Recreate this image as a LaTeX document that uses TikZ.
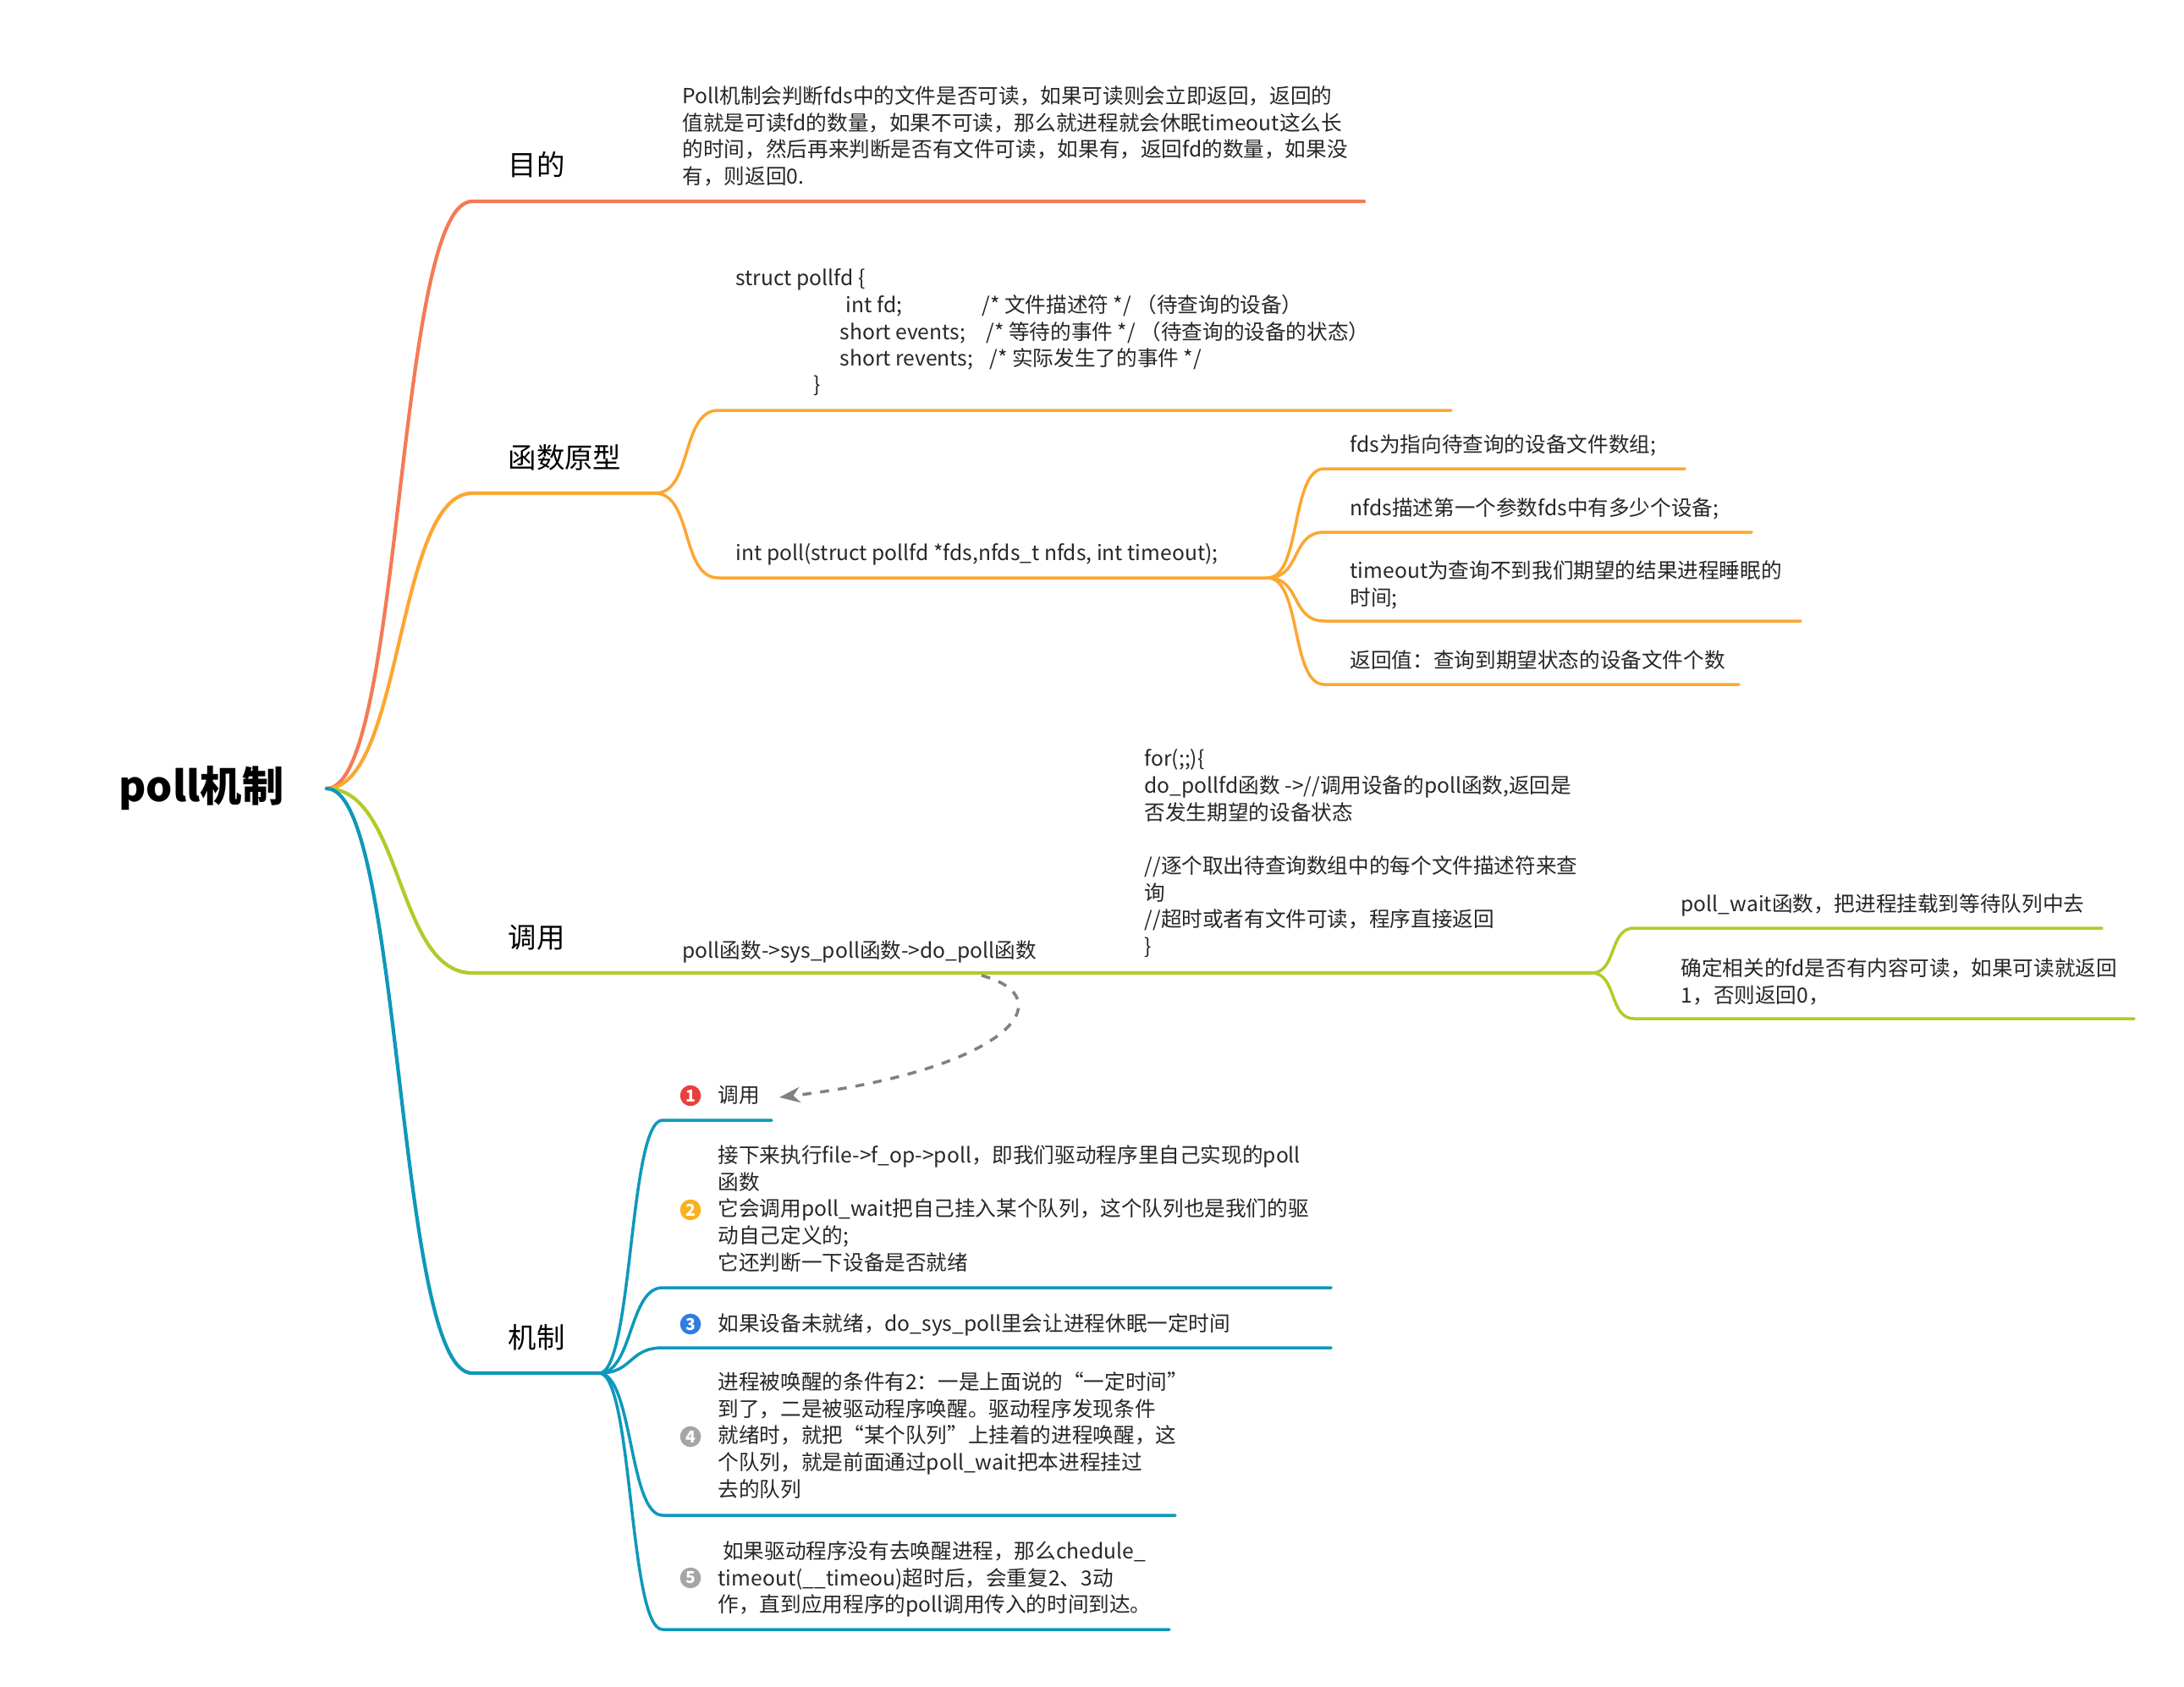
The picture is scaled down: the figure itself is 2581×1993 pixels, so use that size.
\documentclass[tikz,border=0pt]{standalone}
\usepackage{fontspec}
\setmainfont{Noto Sans CJK SC}
\usetikzlibrary{arrows.meta}
\definecolor{cA}{HTML}{F47A55}
\definecolor{cB}{HTML}{FBA732}
\definecolor{cC}{HTML}{B5C92A}
\definecolor{cD}{HTML}{0E98BA}
\definecolor{i1}{HTML}{E8413B}
\definecolor{i2}{HTML}{F9B21B}
\definecolor{i3}{HTML}{2F7DE1}
\definecolor{i4}{HTML}{A5A5A5}
\tikzset{
 txt/.style={font=\fontsize{7}{9}\selectfont, anchor=base west, align=left, inner sep=0pt, text=black!85},
 txtm/.style={txt, anchor=north west, yshift=0.22cm},
 lab/.style={font=\fontsize{9.5}{11}\selectfont, anchor=base west, inner sep=0pt},
 br/.style={line width=1.2pt, line cap=round},
 sb/.style={line width=1pt, line cap=round},
 ico/.style={circle, inner sep=0pt, minimum size=7pt, text=white, font=\fontsize{5.5}{6}\bfseries}
}
\begin{document}
\begin{tikzpicture}[x=0.01cm,y=-0.01cm]
\useasboundingbox (0,0) rectangle (2581,1993);
\node[font=\fontsize{14}{16}\bfseries\selectfont, inner sep=0pt] (root) at (238,932) {poll机制};
\coordinate (r) at (386,932);
% main branches
\coordinate (a0) at (558,238); \coordinate (a1) at (1612,238);
\coordinate (b0) at (558,583); \coordinate (b1) at (774,583);
\coordinate (c0) at (558,1150); \coordinate (c1) at (1881,1150);
\coordinate (d0) at (558,1623); \coordinate (d1) at (708,1623);
\draw[br,cA] (r) .. controls +(90,0) and +(-90,0) .. (a0) -- (a1);
\draw[br,cB] (r) .. controls +(90,0) and +(-90,0) .. (b0) -- (b1);
\draw[br,cC] (r) .. controls +(90,0) and +(-90,0) .. (c0) -- (c1);
\draw[br,cD] (r) .. controls +(90,0) and +(-90,0) .. (d0) -- (d1);
\node[lab] (la) at (600,207) {目的};
\node[lab] (lb) at (600,553) {函数原型};
\node[lab] (lc) at (600,1120) {调用};
\node[lab] (ld) at (600,1593) {机制};
% 目的
\node[txtm] (ta) at (806,123) {Poll机制会判断fds中的文件是否可读，如果可读则会立即返回，返回的\\值就是可读fd的数量，如果不可读，那么就进程就会休眠timeout这么长\\的时间，然后再来判断是否有文件可读，如果有，返回fd的数量，如果没\\有，则返回0.};
% 函数原型
\coordinate (b2) at (849,485); \coordinate (b3) at (1715,485);
\coordinate (b4) at (849,683); \coordinate (b5) at (1498,683);
\draw[sb,cB] (b1) .. controls +(45,0) and +(-45,0) .. (b2) -- (b3);
\draw[sb,cB] (b1) .. controls +(45,0) and +(-45,0) .. (b4) -- (b5);
\node[txt] (s1) at (869,337) {struct pollfd \{};
\node[txt] (s2) at (999,369) {int fd;};
\node[txt] (s2c) at (1160,369) {/* 文件描述符 */ （待查询的设备）};
\node[txt] (s3) at (992,401) {short events;};
\node[txt] (s3c) at (1165,401) {/* 等待的事件 */ （待查询的设备的状态）};
\node[txt] (s4) at (992,432) {short revents;};
\node[txt] (s4c) at (1169,432) {/* 实际发生了的事件 */};
\node[txt] (s5) at (961,463) {\}};
\node[txt] (tp) at (869,662) {int poll(struct pollfd *fds,nfds\_t nfds, int timeout);};
\coordinate (e1) at (1565,554); \coordinate (e1e) at (1991,554);
\coordinate (e2) at (1565,629); \coordinate (e2e) at (2070,629);
\coordinate (e3) at (1565,734); \coordinate (e3e) at (2128,734);
\coordinate (e4) at (1565,809); \coordinate (e4e) at (2055,809);
\foreach \i in {1,2,3,4} \draw[sb,cB] (b5) .. controls +(40,0) and +(-40,0) .. (e\i) -- (e\i e);
\node[txt] (f1) at (1595,534) {fds为指向待查询的设备文件数组;};
\node[txt] (f2) at (1595,609) {nfds描述第一个参数fds中有多少个设备;};
\node[txtm] (f3) at (1595,684) {timeout为查询不到我们期望的结果进程睡眠的\\时间;};
\node[txt] (f4) at (1595,789) {返回值：查询到期望状态的设备文件个数};
% 调用
\node[txt] (tc) at (806,1132) {poll函数->sys\_poll函数->do\_poll函数};
\node[txtm] (tf) at (1352,907) {for(;;)\{\\do\_pollfd函数 ->//调用设备的poll函数,返回是\\否发生期望的设备状态\\[9pt]//逐个取出待查询数组中的每个文件描述符来查\\询\\//超时或者有文件可读，程序直接返回\\\}};
\coordinate (g1) at (1931,1097); \coordinate (g1e) at (2484,1097);
\coordinate (g2) at (1931,1204); \coordinate (g2e) at (2522,1204);
\draw[sb,cC] (c1) .. controls +(30,0) and +(-30,0) .. (g1) -- (g1e);
\draw[sb,cC] (c1) .. controls +(30,0) and +(-30,0) .. (g2) -- (g2e);
\node[txt] (h1) at (1986,1077) {poll\_wait函数，把进程挂载到等待队列中去};
\node[txtm] (h2) at (1986,1154) {确定相关的fd是否有内容可读，如果可读就返回\\1，否则返回0，};
% 机制
\coordinate (k1) at (783,1324); \coordinate (k1e) at (912,1324);
\coordinate (k2) at (783,1522); \coordinate (k2e) at (1573,1522);
\coordinate (k3) at (783,1593); \coordinate (k3e) at (1573,1593);
\coordinate (k4) at (783,1791); \coordinate (k4e) at (1389,1791);
\coordinate (k5) at (783,1926); \coordinate (k5e) at (1382,1926);
\foreach \i in {1,...,5} \draw[sb,cD] (d1) .. controls +(40,0) and +(-40,0) .. (k\i) -- (k\i e);
\node[ico,fill=i1] (n1) at (816,1295) {1};
\node[ico,fill=i2] (n2) at (816,1430) {2};
\node[ico,fill=i3] (n3) at (816,1565) {3};
\node[ico,fill=i4] (n4) at (816,1698) {4};
\node[ico,fill=i4] (n5) at (816,1865) {5};
\node[txt] (m1) at (848,1303) {调用};
\node[txtm] (m2) at (848,1375) {接下来执行file->f\_op->poll，即我们驱动程序里自己实现的poll\\函数\\它会调用poll\_wait把自己挂入某个队列，这个队列也是我们的驱\\动自己定义的;\\它还判断一下设备是否就绪};
\node[txt] (m3) at (848,1573) {如果设备未就绪，do\_sys\_poll里会让进程休眠一定时间};
\node[txtm] (m4) at (848,1643) {进程被唤醒的条件有2：一是上面说的“一定时间”\\到了，二是被驱动程序唤醒。驱动程序发现条件\\就绪时，就把“某个队列”上挂着的进程唤醒，这\\个队列，就是前面通过poll\_wait把本进程挂过\\去的队列};
\node[txtm] (m5) at (848,1843) {\ 如果驱动程序没有去唤醒进程，那么chedule\_\\timeout(\_\_timeou)超时后，会重复2、3动\\作，直到应用程序的poll调用传入的时间到达。};
% dashed arrow
\coordinate (q0) at (1160,1153);
\coordinate (q1) at (921,1297);
\draw[line width=1pt, gray, dashed, -{Stealth[length=7pt]}] (q0) .. controls (1260,1180) and (1190,1265) .. (q1);
\end{tikzpicture}
\end{document}
